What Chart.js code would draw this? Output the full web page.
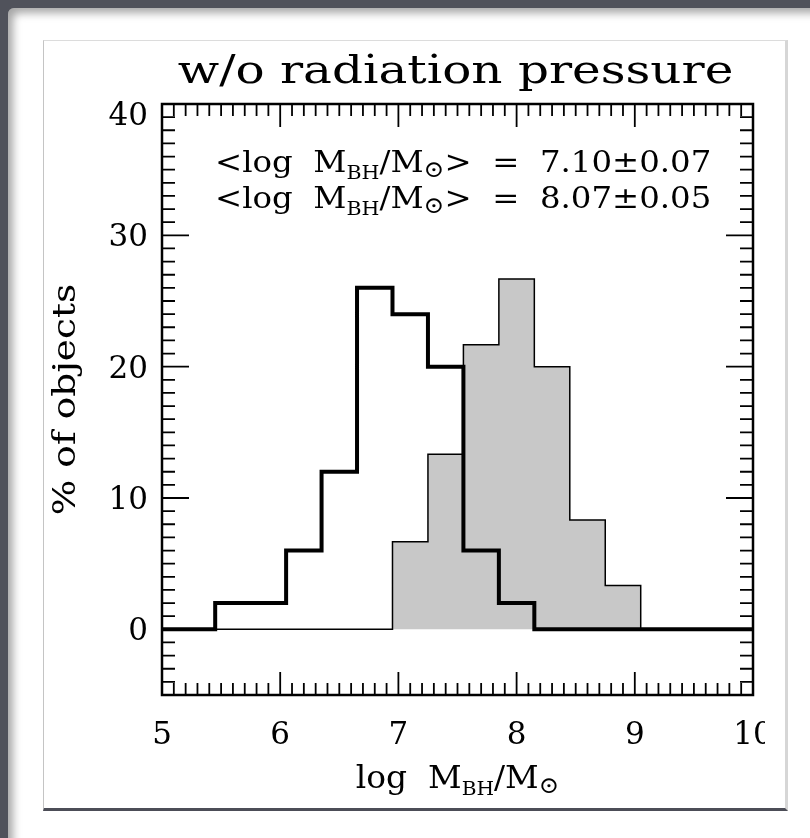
<!DOCTYPE html>
<html>
<head>
<meta charset="utf-8">
<title>w/o radiation pressure</title>
<script src="https://cdn.jsdelivr.net/npm/chart.js@4.4.0/dist/chart.umd.min.js"></script>
<style>
  html, body { margin: 0; padding: 0; }
  body { width: 810px; height: 838px; background: #50525b; position: relative; overflow: hidden; }
  #panel { position: absolute; left: 8px; top: 8px; width: 810px; height: 840px; background: #fff;
           border-top-left-radius: 6px; box-shadow: inset 5px 5px 8px rgba(0,0,0,0.35); }
  #frame { position: absolute; left: 43px; top: 40px; width: 741px; height: 767px; background: #fff;
           border-left: 1px solid #c4c4c4; border-top: 1px solid #dcdcdc;
           border-right: 3px solid #d6d6d6; border-bottom: 3px solid #4c4d57; }
  #clip { position: absolute; left: 0; top: 0; width: 765px; height: 806px; overflow: hidden; }
  #clip canvas { position: absolute; left: 0; top: 0; }
</style>
</head>
<body>
<div id="panel"></div>
<div id="frame"></div>
<div id="clip"><canvas id="massChart" width="810" height="810"></canvas></div>
<script>
// bin left edges (log M_BH/M_sun), last entry closes the range
const binEdges = [5.0, 5.45, 5.75, 6.05, 6.35, 6.65, 6.95, 7.25, 7.55, 7.85, 8.15, 8.45, 8.75, 9.05, 10.0];
// % of objects per bin
const outlinePct = [0, 2, 2, 6, 12, 26, 24, 20, 6, 2, 0, 0, 0, 0, 0];
const filledPct = [0, 0, 0, 0, 0, 0, 6.67, 13.33, 21.67, 26.67, 20, 8.33, 3.33, 0, 0];

const xTickValues = [5, 6, 7, 8, 9, 10];
const yTickValues = [0, 10, 20, 30, 40];
const meanLabels = ['7.10\u00b10.07', '8.07\u00b10.05'];
const chartTitle = 'w/o radiation pressure';
const yTitle = '% of objects';

const serif = '"DejaVu Serif", "Liberation Serif", serif';

function toSteps(values) {
  return binEdges.map((x, i) => ({ x: x, y: values[i] }));
}

// text with subscripts, drawn piece by piece, stretched by sx
function drawRich(ctx, parts, x, y, align, sx) {
  let total = 0;
  parts.forEach(p => {
    ctx.font = p.size + 'px ' + serif;
    p.w = ctx.measureText(p.t).width;
    total += p.w;
  });
  ctx.save();
  ctx.translate(x, y);
  ctx.scale(sx, 1);
  let cx = align === 'center' ? -total / 2 : 0;
  ctx.textAlign = 'left';
  ctx.textBaseline = 'alphabetic';
  parts.forEach(p => {
    ctx.font = p.size + 'px ' + serif;
    ctx.fillText(p.t, cx, p.dy || 0);
    cx += p.w;
  });
  ctx.restore();
}

function massParts(size, before, after) {
  return [
    { t: before + 'log  M', size: size },
    { t: 'BH', size: Math.round(size * 0.62), dy: 7 },
    { t: '/M', size: size },
    { t: '\u2299', size: Math.round(size * 0.75), dy: 5 },
    { t: after, size: size }
  ];
}

const idlFrame = {
  id: 'idlFrame',
  afterDraw(chart) {
    const ctx = chart.ctx;
    const a = chart.chartArea;
    const xs = chart.scales.x;
    const ys = chart.scales.y;
    ctx.save();
    ctx.strokeStyle = '#000';
    ctx.fillStyle = '#000';
    ctx.lineWidth = 1.8;
    ctx.beginPath();
    for (let i = 1; i < 50; i++) {
      const px = xs.getPixelForValue(5 + i / 10);
      const len = i % 10 === 0 ? 23 : 12;
      ctx.moveTo(px, a.bottom); ctx.lineTo(px, a.bottom - len);
      ctx.moveTo(px, a.top); ctx.lineTo(px, a.top + len);
    }
    for (let v = -4; v < 40; v++) {
      const py = ys.getPixelForValue(v);
      const len = v % 10 === 0 ? 27 : 13;
      ctx.moveTo(a.left, py); ctx.lineTo(a.left + len, py);
      ctx.moveTo(a.right, py); ctx.lineTo(a.right - len, py);
    }
    ctx.stroke();
    ctx.lineWidth = 2.5;
    ctx.strokeRect(a.left, a.top, a.right - a.left, a.bottom - a.top);

    const mid = (a.left + a.right) / 2;
    // title
    ctx.save();
    ctx.translate(mid - 2, a.top - 21);
    ctx.scale(1.21, 1);
    ctx.font = '40px ' + serif;
    ctx.textAlign = 'center';
    ctx.textBaseline = 'alphabetic';
    ctx.fillText(chartTitle, 0, 0);
    ctx.restore();

    // y axis title
    ctx.save();
    ctx.translate(67, (a.top + a.bottom) / 2);
    ctx.rotate(-Math.PI / 2);
    ctx.scale(1.17, 1);
    ctx.font = '32px ' + serif;
    ctx.textAlign = 'center';
    ctx.textBaseline = 'middle';
    ctx.fillText(yTitle, 0, 0);
    ctx.restore();

    drawRich(ctx, massParts(30, '<', '>  =  ' + meanLabels[0]), a.left + 53, a.top + 68, 'left', 1.08);
    drawRich(ctx, massParts(30, '<', '>  =  ' + meanLabels[1]), a.left + 53, a.top + 104, 'left', 1.08);
    drawRich(ctx, massParts(31, '', ''), mid, a.bottom + 93, 'center', 1.06);
    ctx.restore();
  }
};

new Chart(document.getElementById('massChart'), {
  type: 'line',
  data: {
    datasets: [
      {
        data: toSteps(outlinePct),
        stepped: 'before',
        borderColor: '#000',
        borderWidth: 4,
        pointRadius: 0,
        fill: false,
        order: 0
      },
      {
        data: toSteps(filledPct),
        stepped: 'before',
        borderColor: '#000',
        borderWidth: 1.5,
        backgroundColor: '#c8c8c8',
        pointRadius: 0,
        fill: 'origin',
        order: 1
      }
    ]
  },
  options: {
    responsive: false,
    animation: false,
    devicePixelRatio: 1,
    layout: { padding: { left: 0, right: 57, top: 104, bottom: 0 } },
    plugins: { legend: { display: false }, tooltip: { enabled: false }, title: { display: false } },
    scales: {
      x: {
        type: 'linear',
        min: 5,
        max: 10,
        grid: { display: false, drawTicks: false },
        border: { display: false },
        afterBuildTicks: scale => { scale.ticks = xTickValues.map(v => ({ value: v })); },
        afterFit: scale => { scale.height = 115; },
        ticks: { color: '#000', padding: 22, maxRotation: 0, font: { family: serif, size: 31 } }
      },
      y: {
        min: -5,
        max: 40,
        grid: { display: false, drawTicks: false },
        border: { display: false },
        afterBuildTicks: scale => { scale.ticks = yTickValues.map(v => ({ value: v })); },
        afterFit: scale => { scale.width = 162; },
        ticks: {
          color: '#000', padding: 14, labelOffset: 3,
          font: { family: serif, size: 31, lineHeight: 0.65 },
          // the top label sits a little below its tick in the original
          callback: v => v === 40 ? ['', String(v)] : String(v)
        }
      }
    }
  },
  plugins: [idlFrame]
});
</script>
</body>
</html>
